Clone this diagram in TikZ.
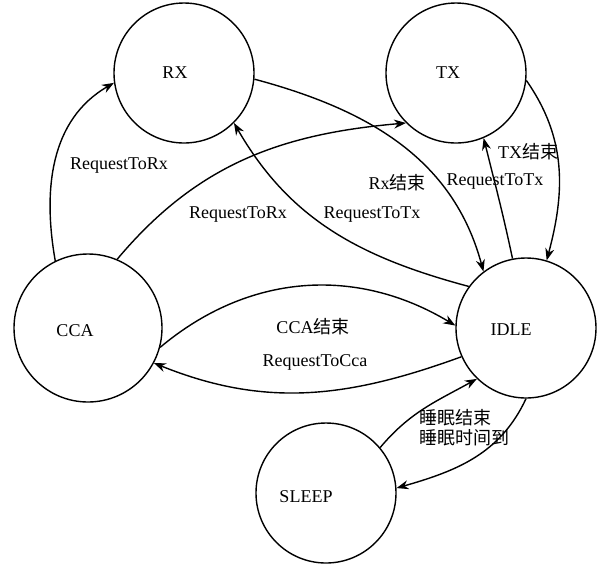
\documentclass[tikz,border=0pt]{standalone}
\usepackage{fontspec}
\setmainfont{Liberation Serif}
\newfontfamily\cjk{Noto Sans CJK SC}
\newcommand{\zh}[1]{{\cjk #1}}
\usetikzlibrary{arrows.meta}
\tikzset{state/.style = {draw, circle, line width=0.7pt, inner sep=0pt, minimum size=70pt},
         edge/.style = {-{Stealth[length=6pt,width=4.5pt]}, line width=0.7pt},
         lbl/.style = {inner sep=1pt}}
\begin{document}
\begin{tikzpicture}[x=0.5pt,y=-0.5pt,font=\fontsize{9}{10}\selectfont]
        \useasboundingbox (0,0) rectangle (600,564);

        % states
        \node[state, label={[xshift=-4.5pt]center:RX}] (rx) at (184,73) {};
        \node[state, label={[xshift=-4pt]center:TX}] (tx) at (456,73) {};
        \node[state, minimum size=74pt, label={[xshift=-6.5pt,yshift=-1.5pt]center:CCA}] (cca) at (88,328) {};
        \node[state, label={[xshift=-7.5pt,yshift=-1pt]center:IDLE}] (idle) at (526,328) {};
        \node[state, label={[xshift=-10pt,yshift=-2pt]center:SLEEP}] (sleep) at (326,493) {};

        % transitions
        \draw[edge] (cca.116) to[out=100,in=210] (rx.188);
        \draw[edge] (cca.67) to[out=50,in=185] (tx.225);
        \draw[edge] (rx.-5) to[out=-15,in=105] (idle.127);
        \draw[edge] (idle.144) to[out=165,in=-60] (rx.-45);
        \draw[edge] (idle.101) to[out=102,in=-76] (tx.-67);
        \draw[edge] (tx.-6) to[out=-55,in=75] (idle.73);
        \draw[edge] (cca.-15) to[out=40,in=149] (idle.178);
        \draw[edge] (idle.204) to[out=200,in=-22] (cca.-28);
        \draw[edge] (sleep.40) to[out=50,in=209] (idle.226);
        \draw[edge] (idle.-90) to[out=-115,in=16] (sleep.4);

        % labels
        \node[lbl] (reqrx1) at (119,166) {RequestToRx};
        \node[lbl] (reqrx2) at (238,215) {RequestToRx};
        \node[lbl] (rxend) at (397,183) {Rx\zh{结束}};
        \node[lbl] (reqtx1) at (372,215) {RequestToTx};
        \node[lbl] (reqtx2) at (495,182) {RequestToTx};
        \node[lbl] (txend) at (528,152) {TX\zh{结束}};
        \node[lbl] (ccaend) at (313,327) {CCA\zh{结束}};
        \node[lbl] (reqcca) at (315,362) {RequestToCca};
        \node[lbl, anchor=west, align=left] (sleepend) at (417,428) {\zh{睡眠结束}\\\zh{睡眠时间到}};
\end{tikzpicture}
\end{document}
